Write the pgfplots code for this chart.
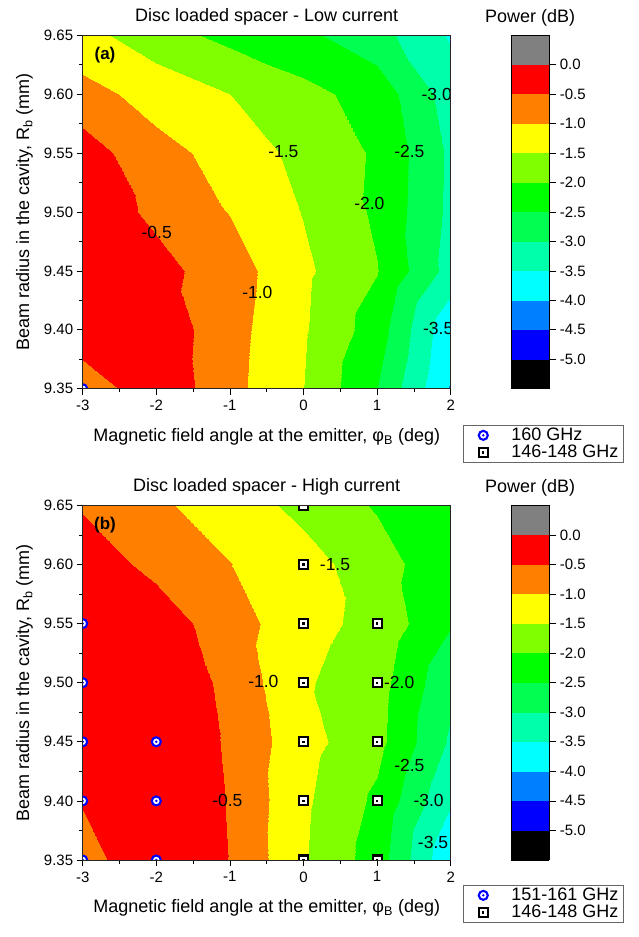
\documentclass[border=0pt]{standalone}
\usepackage{fontspec}
\setmainfont{Liberation Sans}
\usepackage{pgfplots}
\pgfplotsset{compat=1.18}

\pgfdeclareplotmark{circdot}{%
  \pgfsetfillcolor{white}%
  \pgfpathcircle{\pgfpointorigin}{\pgfplotmarksize}%
  \pgfusepathqfillstroke
  \pgfsetfillcolor{blue}%
  \pgfpathcircle{\pgfpointorigin}{0.3\pgfplotmarksize}%
  \pgfusepathqfill}
\pgfdeclareplotmark{sqdot}{%
  \pgfsetfillcolor{white}%
  \pgfpathrectangle{\pgfpoint{-\pgfplotmarksize}{-\pgfplotmarksize}}{\pgfpoint{2\pgfplotmarksize}{2\pgfplotmarksize}}%
  \pgfusepathqfillstroke
  \pgfsetfillcolor{black}%
  \pgfpathrectangle{\pgfpoint{-0.25\pgfplotmarksize}{-0.25\pgfplotmarksize}}{\pgfpoint{0.5\pgfplotmarksize}{0.5\pgfplotmarksize}}%
  \pgfusepathqfill}

\tikzset{clab/.style={font=\fontsize{17.5}{20}\selectfont, inner sep=0pt}}

\pgfplotsset{
  mystyle/.style={
    scale only axis, width=368pt,
    xmin=-3, xmax=2, ymin=9.35, ymax=9.65,
    xtick={-3,-2,-1,0,1,2}, xticklabels={-3,-2,-1,0,1,2},
    ytick={9.35,9.40,9.45,9.50,9.55,9.60,9.65},
    yticklabels={9.35,9.40,9.45,9.50,9.55,9.60,9.65},
    minor x tick num=1, minor y tick num=1,
    tick align=outside, tick pos=left,
    major tick length=6pt, minor tick length=3.5pt,
    tick style={black, line width=0.7pt},
    xticklabel style={font=\fontsize{15}{18}\selectfont, yshift=-2pt},
    yticklabel style={font=\fontsize{15}{18}\selectfont},
    axis line style={black!85, line width=0.8pt},
    axis on top,
    colormap={power}{rgb255=(0,0,0) rgb255=(0,0,255) rgb255=(0,128,255) rgb255=(0,255,255) rgb255=(0,255,170) rgb255=(0,255,80) rgb255=(0,255,0) rgb255=(128,255,0) rgb255=(255,255,0) rgb255=(255,128,0) rgb255=(255,0,0) rgb255=(128,128,128)},
    colormap access=piecewise constant,
    point meta min=-5.5, point meta max=0.5,
    clip marker paths=true,
    xlabel={Magnetic field angle at the emitter, φ\textsubscript{B} (deg)},
    ylabel={Beam radius in the cavity, R\textsubscript{b} (mm)},
    xlabel style={font=\fontsize{18}{21}\selectfont, at={(axis description cs:0.5,-0.136)}, anchor=center},
    ylabel style={font=\fontsize{18}{21}\selectfont, at={(axis description cs:-0.158,0.5)}, anchor=center, rotate=0},
    title style={font=\fontsize{18}{21}\selectfont, at={(axis description cs:0.5,1)}, anchor=center, yshift=12pt},
    colorbar,
    colorbar style={
      at={(parent axis.north east)}, anchor=north west, xshift=52pt,
      width=38pt,
      ytick={-5,-4.5,-4,-3.5,-3,-2.5,-2,-1.5,-1,-0.5,0},
      yticklabels={-5.0,-4.5,-4.0,-3.5,-3.0,-2.5,-2.0,-1.5,-1.0,-0.5,0.0},
      minor y tick num=0,
      tick align=outside, major tick length=7pt,
      ytick pos=right, yticklabel pos=right,
      tick style={black, line width=0.7pt},
      axis line style={black, line width=0.8pt},
      yticklabel style={font=\fontsize{15}{18}\selectfont},
      title={Power (dB)},
      title style={font=\fontsize{18}{21}\selectfont, at={(0.5,1)}, anchor=center, yshift=11pt},
    },
    legend cell align=left,
    legend style={draw=black!60, line width=0.6pt, font=\fontsize{18}{19}\selectfont,
      inner xsep=3pt, inner ysep=1pt, row sep=-1pt, anchor=north west},
  },
  cmark/.style={only marks, mark=circdot, mark size=4.5pt, mark options={draw=blue, line width=2.1pt, solid},
    legend image code/.code={\path[draw=none, fill=none] (0pt,-5pt) rectangle (43pt,5pt); \draw[##1] plot coordinates {(17pt,0pt)};}},
  smark/.style={only marks, mark=sqdot, mark size=4.5pt, mark options={draw=black, line width=2.1pt, solid},
    legend image code/.code={\path[draw=none, fill=none] (0pt,-5pt) rectangle (43pt,5pt); \draw[##1] plot coordinates {(17pt,0pt)};}},
}

\begin{document}
\begin{tikzpicture}
\useasboundingbox (0,0) rectangle (639pt,-937pt);
% ---------------- (a)
\begin{axis}[mystyle, at={(82.7pt,-388.7pt)}, anchor=south west, height=353.4pt,
  title={Disc loaded spacer - Low current},
  legend style={at={(1.0334,-0.1027)}}]
\addplot[surf, shader=interp, mesh/cols=6, mesh/rows=7, point meta=explicit, forget plot] table[meta=v] {
x y v
-3 9.35 -0.87
-2 9.35 -0.11
-1 9.35 -0.85
0 9.35 -1.49
1 9.35 -2.50
2 9.35 -4.05
-3 9.40 -0.11
-2 9.40 -0.17
-1 9.40 -0.82
0 9.40 -1.44
1 9.40 -2.25
2 9.40 -3.90
-3 9.45 -0.15
-2 9.45 -0.34
-1 9.45 -0.76
0 9.45 -1.40
1 9.45 -1.98
2 9.45 -3.20
-3 9.50 -0.20
-2 9.50 -0.60
-1 9.50 -1.02
0 9.50 -1.52
1 9.50 -2.08
2 9.50 -3.12
-3 9.55 -0.25
-2 9.55 -0.86
-1 9.55 -1.15
0 9.55 -1.67
1 9.55 -2.06
2 9.55 -3.10
-3 9.60 -0.84
-2 9.60 -1.17
-1 9.60 -1.50
0 9.60 -1.85
1 9.60 -2.20
2 9.60 -3.25
-3 9.65 -1.33
-2 9.65 -1.80
-1 9.65 -2.14
0 9.65 -2.39
1 9.65 -2.82
2 9.65 -3.56
};
\addplot[cmark] coordinates {(-3,9.35)};
\addlegendentry{160 GHz}
\addlegendimage{smark}
\addlegendentry{146-148 GHz}
\begin{scope}
\clip (rel axis cs:0,0) rectangle (rel axis cs:1,1);
\node[clab] at (axis cs:-1.995,9.483) {-0.5};
\node[clab] at (axis cs:-0.627,9.432) {-1.0};
\node[clab] at (axis cs:-0.274,9.551) {-1.5};
\node[clab] at (axis cs:0.895,9.507) {-2.0};
\node[clab] at (axis cs:1.438,9.551) {-2.5};
\node[clab] at (axis cs:1.81,9.60) {-3.0};
\node[clab] at (axis cs:1.83,9.401) {-3.5};
\end{scope}
\node[font=\bfseries\fontsize{17}{20}\selectfont] at (rel axis cs:0.0606,0.944) {(a)};
\end{axis}
% ---------------- (b)
\begin{axis}[mystyle, at={(82.7pt,-860pt)}, anchor=south west, height=354.7pt,
  title={Disc loaded spacer - High current},
  legend style={at={(1.0334,-0.0705)}}]
\addplot[surf, shader=interp, mesh/cols=6, mesh/rows=7, point meta=explicit, forget plot] table[meta=v] {
x y v
-3 9.35 -0.60
-2 9.35 -0.30
-1 9.35 -0.51
0 9.35 -1.45
1 9.35 -2.24
2 9.35 -3.95
-3 9.40 -0.48
-2 9.40 -0.10
-1 9.40 -0.53
0 9.40 -1.41
1 9.40 -2.10
2 9.40 -3.45
-3 9.45 -0.08
-2 9.45 -0.05
-1 9.45 -0.57
0 9.45 -1.32
1 9.45 -1.85
2 9.45 -3.08
-3 9.50 -0.10
-2 9.50 -0.05
-1 9.50 -0.64
0 9.50 -1.44
1 9.50 -1.80
2 9.50 -2.88
-3 9.55 -0.12
-2 9.55 -0.235
-1 9.55 -0.765
0 9.55 -1.33
1 9.55 -1.65
2 9.55 -2.47
-3 9.60 -0.245
-2 9.60 -0.63
-1 9.60 -0.99
0 9.60 -1.30
1 9.60 -1.78
2 9.60 -2.37
-3 9.65 -0.55
-2 9.65 -0.92
-1 9.65 -1.24
0 9.65 -1.64
1 9.65 -2.05
2 9.65 -2.35
};
\addplot[cmark] coordinates {(-3,9.35) (-3,9.40) (-3,9.45) (-3,9.50) (-3,9.55) (-2,9.35) (-2,9.40) (-2,9.45)};
\addlegendentry{151-161 GHz}
\addplot[smark] coordinates {(0,9.35) (0,9.40) (0,9.45) (0,9.50) (0,9.55) (0,9.60) (0,9.65) (1,9.35) (1,9.40) (1,9.45) (1,9.50) (1,9.55)};
\addlegendentry{146-148 GHz}
\begin{scope}
\clip (rel axis cs:0,0) rectangle (rel axis cs:1,1);
\node[clab] at (axis cs:0.428,9.60) {-1.5};
\node[clab] at (axis cs:-0.545,9.501) {-1.0};
\node[clab] at (axis cs:1.30,9.50) {-2.0};
\node[clab] at (axis cs:-1.034,9.40) {-0.5};
\node[clab] at (axis cs:1.438,9.43) {-2.5};
\node[clab] at (axis cs:1.70,9.40) {-3.0};
\node[clab] at (axis cs:1.76,9.365) {-3.5};
\end{scope}
\node[font=\bfseries\fontsize{17}{20}\selectfont] at (rel axis cs:0.0606,0.944) {(b)};
\end{axis}
\end{tikzpicture}
\end{document}
